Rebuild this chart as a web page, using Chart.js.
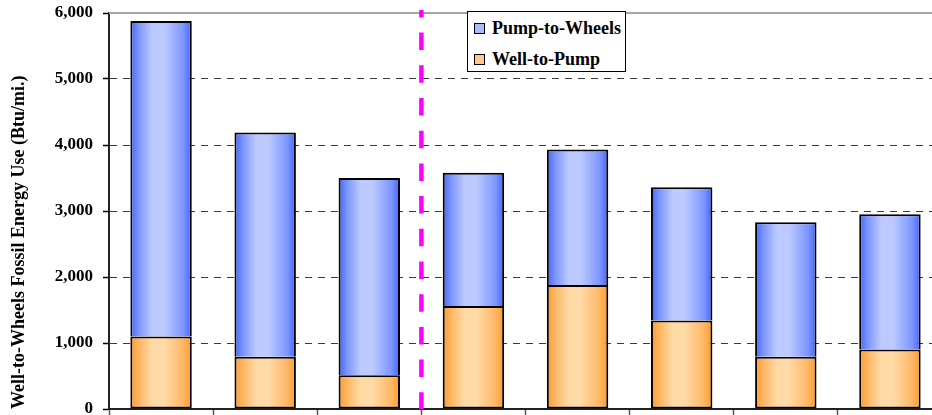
<!DOCTYPE html>
<html>
<head>
<meta charset="utf-8">
<script src="https://cdn.jsdelivr.net/npm/chart.js@4/dist/chart.umd.min.js"></script>
<style>
  html, body { margin: 0; padding: 0; background: #fff; overflow: hidden; }
  #wrap { position: relative; width: 960px; height: 415px; }
  #legend {
    position: absolute; left: 467px; top: 11px; width: 157px; height: 59px;
    border: 1px solid #000; background: #fff;
    font: bold 18px "Liberation Serif", "Times New Roman", serif; color: #000;
  }
  #legend .item { position: absolute; left: 6px; height: 22px; line-height: 22px; white-space: nowrap; }
  #legend .sw { display: inline-block; width: 9px; height: 9px; border: 1px solid #000; margin-right: 7px; vertical-align: 0px; }
</style>
</head>
<body>
<div id="wrap">
  <canvas id="c" width="960" height="415"></canvas>
  <div id="legend"></div>
</div>
<script>
// Categories (axis labels are below the visible area, so left blank)
const categories = ['', '', '', '', '', '', '', ''];

// Energy use, Btu/mi.
const wellToPump    = [1100,  790,  510, 1560, 1880, 1340,  790,  900];
const pumpToWheels  = [4780, 3400, 2990, 2020, 2050, 2020, 2040, 2050];

// Value axis
const yTicks = [0, 1000, 2000, 3000, 4000, 5000, 6000];
const yTitle = 'Well-to-Wheels Fossil Energy Use (Btu/mi.)';

// Dashed divider sits after this category index
const DIVIDER_AFTER = 2;
const BAR_PCT = 0.59;

const seriesStyle = {
  pump: { edge: '#4164ff', mid: '#7d96ff', light: '#bccaff', swatch: '#a9bbff' },
  well: { edge: '#ff9828', mid: '#ffb765', light: '#ffdaa6', swatch: '#ffc98a' }
};

function barGradient(style) {
  return (ctx) => {
    const chart = ctx.chart;
    const area = chart.chartArea;
    const xs = chart.scales.x;
    if (!area || !xs || ctx.dataIndex === undefined) return style.edge;
    const cx = xs.getPixelForValue(ctx.dataIndex);
    const half = (area.width / categories.length) * BAR_PCT / 2;
    const g = chart.ctx.createLinearGradient(cx - half, 0, cx + half, 0);
    g.addColorStop(0, style.edge);
    g.addColorStop(0.14, style.mid);
    g.addColorStop(0.36, style.light);
    g.addColorStop(0.55, style.light);
    g.addColorStop(0.86, style.mid);
    g.addColorStop(1, style.edge);
    return g;
  };
}

const overlay = {
  id: 'overlay',
  beforeDatasetsDraw(chart) {
    const { ctx, chartArea: a, scales: { y } } = chart;
    const yt = y.getPixelForValue(yTicks[yTicks.length - 1]);
    ctx.save();
    ctx.strokeStyle = '#a6a6a6';
    ctx.lineWidth = 2;
    ctx.beginPath();
    ctx.moveTo(a.left, yt);
    ctx.lineTo(a.right, yt);
    ctx.stroke();
    ctx.restore();
  },
  afterDatasetsDraw(chart) {
    const { ctx, chartArea: a, scales: { x } } = chart;
    const xd = x.getPixelForValue(DIVIDER_AFTER + 0.5);
    ctx.save();
    ctx.strokeStyle = '#ff00ff';
    ctx.lineWidth = 4.5;
    ctx.setLineDash([17.5, 15.2]);
    ctx.lineDashOffset = 10.1;
    ctx.beginPath();
    ctx.moveTo(xd, a.top - 3);
    ctx.lineTo(xd, a.bottom);
    ctx.stroke();
    ctx.restore();
  }
};

const serif = '"Liberation Serif", "Times New Roman", serif';

const chart = new Chart(document.getElementById('c'), {
  type: 'bar',
  data: {
    labels: categories,
    datasets: [
      {
        label: 'Well-to-Pump',
        data: wellToPump,
        backgroundColor: barGradient(seriesStyle.well),
        borderColor: '#000',
        borderWidth: { top: 2, left: 2, right: 2, bottom: 2 },
        borderSkipped: false,
        swatch: seriesStyle.well.swatch
      },
      {
        label: 'Pump-to-Wheels',
        data: pumpToWheels,
        backgroundColor: barGradient(seriesStyle.pump),
        borderColor: '#000',
        borderWidth: { top: 2, left: 2, right: 2, bottom: 0 },
        borderSkipped: false,
        swatch: seriesStyle.pump.swatch
      }
    ]
  },
  options: {
    responsive: false,
    animation: false,
    events: [],
    layout: { padding: { top: 13, right: 18, left: 0, bottom: 0 } },
    datasets: { bar: { barPercentage: BAR_PCT, categoryPercentage: 1 } },
    plugins: { legend: { display: false }, tooltip: { enabled: false } },
    scales: {
      x: {
        stacked: true,
        offset: true,
        grid: {
          offset: true, drawOnChartArea: false, drawTicks: true,
          tickLength: 6, tickColor: '#555', tickWidth: 1.5
        },
        border: { display: true, color: '#222', width: 2 },
        ticks: { display: false },
        afterFit(s) { s.height = 6; s.paddingLeft = 0; s.paddingRight = 0; }
      },
      y: {
        stacked: true,
        min: yTicks[0],
        max: yTicks[yTicks.length - 1],
        afterBuildTicks(s) { s.ticks = yTicks.map(v => ({ value: v })); },
        afterFit(s) { s.width = 109; s.paddingTop = 0; s.paddingBottom = 0; },
        grid: {
          color: '#3a3a3a', lineWidth: 1,
          drawTicks: true, tickLength: 6, tickColor: '#000', tickWidth: 1.5,
          tickBorderDash: []
        },
        border: { display: true, color: '#222', width: 2, dash: [7, 6] },
        ticks: {
          padding: 10,
          color: '#000',
          font: { family: serif, size: 17, weight: 'bold' },
          callback: (v) => Number(v).toLocaleString('en-US')
        },
        title: {
          display: true,
          text: yTitle,
          align: 'start',
          color: '#000',
          padding: { top: 9, bottom: 0 },
          font: { family: serif, size: 18, weight: 'bold', lineHeight: 1.2 }
        }
      }
    }
  },
  plugins: [overlay]
});

// Legend box, top series first
const legend = document.getElementById('legend');
chart.data.datasets.slice().reverse().forEach((ds, i) => {
  const item = document.createElement('div');
  item.className = 'item';
  item.style.top = (i === 0 ? 5 : 36) + 'px';
  const sw = document.createElement('span');
  sw.className = 'sw';
  sw.style.background = ds.swatch;
  item.appendChild(sw);
  item.appendChild(document.createTextNode(ds.label));
  legend.appendChild(item);
});
</script>
</body>
</html>
